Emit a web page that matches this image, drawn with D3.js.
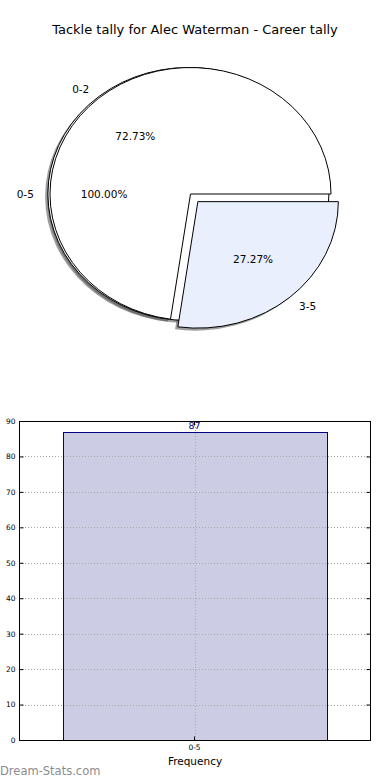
<!DOCTYPE html>
<html lang="en">
<head>
<meta charset="UTF-8">
<title>Tackle tally</title>
<script src="https://cdn.jsdelivr.net/npm/d3@7/dist/d3.min.js"></script>
<style>
  body { margin: 0; background: #ffffff; }
  svg { display: block; font-family: "DejaVu Sans", sans-serif; }
</style>
</head>
<body>
<div id="output"></div>
<script>
// data
var chartTitle = "Tackle tally for Alec Waterman - Career tally";
var outerLabels = ["0-5"];
var outerValues = [87];
var innerLabels = ["0-2", "3-5"];
var innerValues = [8, 3];
var barCategories = ["0-5"];
var barValues = [87];
var yTicks = [0, 10, 20, 30, 40, 50, 60, 70, 80, 90];

var w = 390, h = 780;
var svg = d3.select("#output").append("svg")
    .attr("width", w).attr("height", h);

svg.append("text")
    .attr("x", 195).attr("y", 34)
    .attr("text-anchor", "middle")
    .attr("font-size", 13)
    .attr("fill", "#000")
    .text(chartTitle);

// ---- pie (elliptical, matplotlib-ish) ----
var cx = 190.5, cy = 194, rx = 140.5, ry = 126.5;

// matplotlib starts at 3 o'clock and goes counter-clockwise
var pie = d3.pie().sort(null).startAngle(Math.PI / 2).endAngle(Math.PI / 2 - 2 * Math.PI);
var arc = d3.arc().innerRadius(0).outerRadius(rx);

function wedges(labels, values, explode, fills) {
    var total = d3.sum(values);
    return pie(values).map(function (d, i) {
        var mid = (d.startAngle + d.endAngle) / 2;
        return {
            arc: d,
            label: labels[i],
            pct: d.value / total * 100,
            mid: mid,
            ox: explode[i] * rx * Math.sin(mid),
            oy: -explode[i] * ry * Math.cos(mid),
            fill: fills[i]
        };
    });
}

var all = wedges(outerLabels, outerValues, [0.015], ["#ffffff"])
    .concat(wedges(innerLabels, innerValues, [0, 0.08], ["#ffffff", "#e9effd"]));

var shadowG = svg.append("g");
all.forEach(function (d) {
    shadowG.append("g")
        .attr("transform", "translate(" + (cx + d.ox - 2.8) + "," + (cy + d.oy + 2.5) + ")")
        .append("path")
        .attr("d", arc(d.arc))
        .attr("transform", "scale(1," + (ry / rx) + ")")
        .attr("fill", "#4d4d4d")
        .attr("opacity", 0.55);
});

var wedgeG = svg.append("g");
all.forEach(function (d) {
    wedgeG.append("g")
        .attr("transform", "translate(" + (cx + d.ox) + "," + (cy + d.oy) + ")")
        .append("path")
        .attr("d", arc(d.arc))
        .attr("transform", "scale(1," + (ry / rx) + ")")
        .attr("fill", d.fill)
        .attr("stroke", "#000")
        .attr("stroke-width", 1)
        .attr("vector-effect", "non-scaling-stroke")
        .attr("stroke-linejoin", "miter");
});

var textG = svg.append("g").attr("font-size", 10.5).attr("fill", "#000");
all.forEach(function (d) {
    var sx = Math.sin(d.mid), sy = -Math.cos(d.mid);
    var lx = cx + d.ox + 1.1 * rx * sx, ly = cy + d.oy + 1.1 * ry * sy;
    textG.append("text")
        .attr("x", lx).attr("y", ly)
        .attr("dy", "0.35em")
        .attr("text-anchor", sx < 0 ? "end" : "start")
        .text(d.label);
    textG.append("text")
        .attr("x", cx + d.ox + 0.6 * rx * sx).attr("y", cy + d.oy + 0.6 * ry * sy)
        .attr("dy", "0.35em")
        .attr("text-anchor", "middle")
        .text(d.pct.toFixed(2) + "%");
});

// ---- bar chart ----
var axL = 19, axR = 370, axT = 421, axB = 740;

var x = d3.scaleBand().domain(barCategories).range([axL, axR])
    .paddingInner(0).paddingOuter(0.165);
var y = d3.scaleLinear().domain([0, 90]).range([axB, axT]);

var bars = svg.append("g");
bars.selectAll("rect").data(barValues).enter().append("rect")
    .attr("x", function (d, i) { return Math.round(x(barCategories[i])) + 0.5; })
    .attr("y", function (d) { return Math.round(y(d)) + 0.5; })
    .attr("width", Math.round(x.bandwidth()))
    .attr("height", function (d) { return Math.round(y(0) - y(d)); })
    .attr("fill", "#ccccE4")
    .attr("stroke", "#000080")
    .attr("stroke-width", 1);

// grid
var grid = svg.append("g").attr("stroke", "#a8a8a8").attr("stroke-width", 1)
    .attr("stroke-dasharray", "1,2");
grid.selectAll("line.h").data(yTicks).enter().append("line")
    .attr("x1", axL).attr("x2", axR)
    .attr("y1", function (d) { return Math.round(y(d)) + 0.5; })
    .attr("y2", function (d) { return Math.round(y(d)) + 0.5; });
grid.selectAll("line.v").data(barCategories).enter().append("line")
    .attr("x1", function (d) { return Math.round(x(d) + x.bandwidth() / 2) + 0.5; })
    .attr("x2", function (d) { return Math.round(x(d) + x.bandwidth() / 2) + 0.5; })
    .attr("y1", axT).attr("y2", axB);

// value labels
svg.append("g").selectAll("text").data(barValues).enter().append("text")
    .attr("x", function (d, i) { return x(barCategories[i]) + x.bandwidth() / 2; })
    .attr("y", function (d) { return y(d) - 3; })
    .attr("text-anchor", "middle")
    .attr("font-size", 9.5)
    .attr("fill", "#000080")
    .text(function (d) { return d; });

// axes
var yAxisL = d3.axisLeft(y).tickValues(yTicks).tickSizeInner(-4).tickSizeOuter(0).tickPadding(4);
var yAxisR = d3.axisRight(y).tickValues(yTicks).tickSizeInner(-4).tickSizeOuter(0).tickFormat("");
var xAxisB = d3.axisBottom(x).tickSizeInner(-4).tickSizeOuter(0).tickPadding(4);
var xAxisT = d3.axisTop(x).tickSizeInner(-4).tickSizeOuter(0).tickFormat("");

function style(g) {
    g.select(".domain").remove();
    g.selectAll("text").attr("font-size", 7.5).attr("font-family", "DejaVu Sans").attr("fill", "#000");
    g.selectAll("line").attr("stroke", "#000");
}
svg.append("g").attr("transform", "translate(" + (axL + 0.5) + ",0)").call(yAxisL).call(style);
svg.append("g").attr("transform", "translate(" + (axR + 0.5) + ",0)").call(yAxisR).call(style);
svg.append("g").attr("transform", "translate(0," + (axB + 0.5) + ")").call(xAxisB).call(style);
svg.append("g").attr("transform", "translate(0," + (axT + 0.5) + ")").call(xAxisT).call(style);

svg.append("rect")
    .attr("x", axL + 0.5).attr("y", axT + 0.5)
    .attr("width", axR - axL).attr("height", axB - axT)
    .attr("fill", "none").attr("stroke", "#000").attr("stroke-width", 1);

svg.append("text")
    .attr("x", 195).attr("y", 765)
    .attr("text-anchor", "middle")
    .attr("font-size", 10.5)
    .text("Frequency");

svg.append("text")
    .attr("x", 0).attr("y", 775)
    .attr("font-size", 11.5)
    .attr("fill", "#8c8c8c")
    .text("Dream-Stats.com");
</script>
</body>
</html>
